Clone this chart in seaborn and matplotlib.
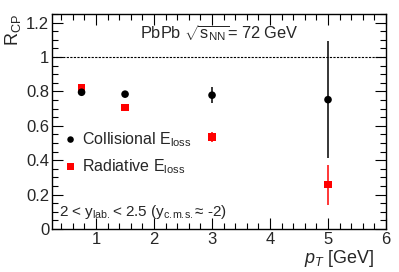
import matplotlib
matplotlib.use("Agg")
import matplotlib.pyplot as plt
import seaborn as sns
import pandas as pd
import numpy as np
from matplotlib.ticker import MultipleLocator

sns.set_theme(style="white")
plt.rcParams['font.family'] = ['Liberation Sans', 'DejaVu Sans']
plt.rcParams['mathtext.fontset'] = 'custom'
plt.rcParams['mathtext.rm'] = 'Liberation Sans'
plt.rcParams['mathtext.it'] = 'Liberation Sans:italic'

# data
coll_pt = [0.75, 1.5, 3.0, 5.0]
coll_r = [0.795, 0.784, 0.778, 0.752]
coll_err = [0.0, 0.0, 0.048, 0.34]
rad_pt = [0.75, 1.5, 3.0, 5.0]
rad_r = [0.822, 0.708, 0.534, 0.257]
rad_err = [0.0, 0.0, 0.03, 0.117]

df_c = pd.DataFrame({"pt": coll_pt, "r": coll_r, "err": coll_err})
df_r = pd.DataFrame({"pt": rad_pt, "r": rad_r, "err": rad_err})

fig = plt.figure(figsize=(3.99, 2.72), dpi=100)
ax = fig.add_axes([52/399, 1-229/272, (386-52)/399, (229-14)/272])

ax.axhline(1.0, color='black', ls=(0, (2, 1.2)), lw=0.8, zorder=1)

ax.errorbar(df_r.pt, df_r.r, yerr=df_r.err, fmt='none', ecolor='red', elinewidth=1.1, capsize=0, zorder=2)
ax.errorbar(df_c.pt, df_c.r, yerr=df_c.err, fmt='none', ecolor='black', elinewidth=1.1, capsize=0, zorder=2)
sns.scatterplot(data=df_r, x="pt", y="r", ax=ax, color='red', marker='s', s=28, edgecolor='none', zorder=3)
sns.scatterplot(data=df_c, x="pt", y="r", ax=ax, color='black', marker='o', s=30, edgecolor='none', zorder=4)

ax.set_xlim(0.24, 6.0)
ax.set_ylim(0, 1.25)
ax.xaxis.set_major_locator(MultipleLocator(1))
ax.xaxis.set_minor_locator(MultipleLocator(0.2))
ax.yaxis.set_minor_locator(MultipleLocator(0.05))
ax.set_yticks([0, 0.2, 0.4, 0.6, 0.8, 1.0, 1.2])
ax.set_yticklabels(['0', '0.2', '0.4', '0.6', '0.8', '1', '1.2'])
ax.tick_params(which='both', direction='in', top=True, right=True, bottom=True, left=True, labelsize=12, color='black', pad=2)
ax.tick_params(which='major', length=8, width=0.8)
ax.tick_params(which='minor', length=4, width=0.8)
for s in ax.spines.values():
    s.set_color('black')
    s.set_linewidth(1.0)

ax.set_xlabel(r'$p_{T}$ [GeV]', fontsize=13, loc='right', labelpad=1)
ax.xaxis.label.set_x(0.965)
ax.set_ylabel(r'R$_{\mathregular{CP}}$', fontsize=13, loc='top', labelpad=2)

ax.text(0.5, 0.91, r'PbPb $\sqrt{\mathregular{s}_{\mathregular{NN}}}$= 72 GeV', transform=ax.transAxes,
        ha='center', va='center', fontsize=11.8)

ax.scatter([0.56], [0.52], color='black', marker='o', s=22, edgecolor='none', clip_on=False)
ax.scatter([0.56], [0.365], color='red', marker='s', s=26, edgecolor='none', clip_on=False)
ax.text(0.75, 0.52, r'Collisional E$_{\mathregular{loss}}$', fontsize=11.5, va='center')
ax.text(0.75, 0.365, r'Radiative E$_{\mathregular{loss}}$', fontsize=11.5, va='center')
ax.text(0.36, 0.10, r'2 < y$_{\mathregular{lab.}}$< 2.5 (y$_{\mathregular{c.\!m.\!s.}}$≈ -2)', fontsize=11, va='center')

fig.savefig("out.png", dpi=100)
